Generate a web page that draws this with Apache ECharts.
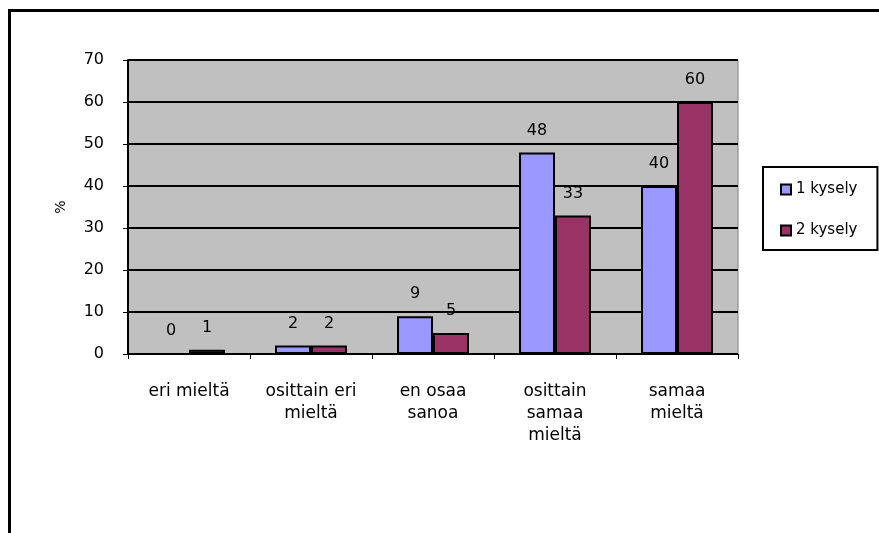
<!DOCTYPE html>
<html>
<head>
<meta charset="utf-8">
<script src="https://cdn.jsdelivr.net/npm/echarts@6/dist/echarts.min.js"></script>
<style>
  html, body { margin: 0; padding: 0; background: #fff; }
  #chart { width: 879px; height: 533px; }
</style>
</head>
<body>
<div id="chart"></div>
<script>
// Survey answers, share of respondents (%)
const categories = ['eri mieltä', 'osittain eri\nmieltä', 'en osaa\nsanoa', 'osittain\nsamaa\nmieltä', 'samaa\nmieltä'];
const seriesNames = ['1 kysely', '2 kysely'];
const survey1 = [0, 2, 9, 48, 40];
const survey2 = [1, 2, 5, 33, 60];
const yTicks = { min: 0, max: 70, interval: 10 };

const font = 'DejaVu Sans, Verdana, sans-serif';
const colors = ['#9999FF', '#993366'];

function barSeries(name, data, color) {
  return {
    name: name,
    type: 'bar',
    data: data,
    barGap: '0%',
    barCategoryGap: '41%',
    itemStyle: { color: color, borderColor: '#000', borderWidth: 2 },
    label: {
      show: true,
      position: 'top',
      distance: 14,
      color: '#000',
      fontFamily: font,
      fontSize: 16
    }
  };
}

const chart = echarts.init(document.getElementById('chart'), null, { renderer: 'canvas' });
chart.setOption({
  animation: false,
  backgroundColor: '#fff',
  grid: {
    left: 128, right: 141, top: 60, bottom: 179,
    show: true,
    backgroundColor: '#C0C0C0',
    borderColor: '#808080',
    borderWidth: 1
  },
  legend: {
    orient: 'vertical',
    left: 763,
    top: 167,
    padding: [15, 20, 12, 17],
    itemGap: 26,
    itemWidth: 10,
    itemHeight: 10,
    borderColor: '#000',
    borderWidth: 2,
    icon: 'rect',
    itemStyle: { borderColor: '#000', borderWidth: 2 },
    textStyle: { color: '#000', fontFamily: font, fontSize: 15, lineHeight: 14, padding: [0, 0, 0, 0] },
    data: seriesNames
  },
  xAxis: {
    type: 'category',
    data: categories,
    axisLine: { show: true, lineStyle: { color: '#000', width: 1 } },
    axisTick: { show: true, length: 5, lineStyle: { color: '#000' } },
    axisLabel: {
      color: '#000', fontFamily: font, fontSize: 17, lineHeight: 22,
      margin: 27, interval: 0
    }
  },
  yAxis: {
    type: 'value',
    min: yTicks.min, max: yTicks.max, interval: yTicks.interval,
    name: '%',
    nameLocation: 'middle',
    nameGap: 60,
    nameRotate: 90,
    nameTextStyle: { color: '#000', fontFamily: font, fontSize: 14 },
    axisLine: { show: true, lineStyle: { color: '#000', width: 2 } },
    axisTick: { show: true, length: 5, lineStyle: { color: '#000', width: 1 } },
    axisLabel: { color: '#000', fontFamily: font, fontSize: 16, margin: 24 },
    splitLine: { show: true, lineStyle: { color: '#000', width: 2 } }
  },
  graphic: [{
    type: 'rect',
    left: 7, top: 8,
    shape: { width: 900, height: 600 },
    style: { fill: null, stroke: '#000', lineWidth: 3 },
    silent: true
  }],
  series: [
    barSeries(seriesNames[0], survey1, colors[0]),
    barSeries(seriesNames[1], survey2, colors[1])
  ]
});
</script>
</body>
</html>
